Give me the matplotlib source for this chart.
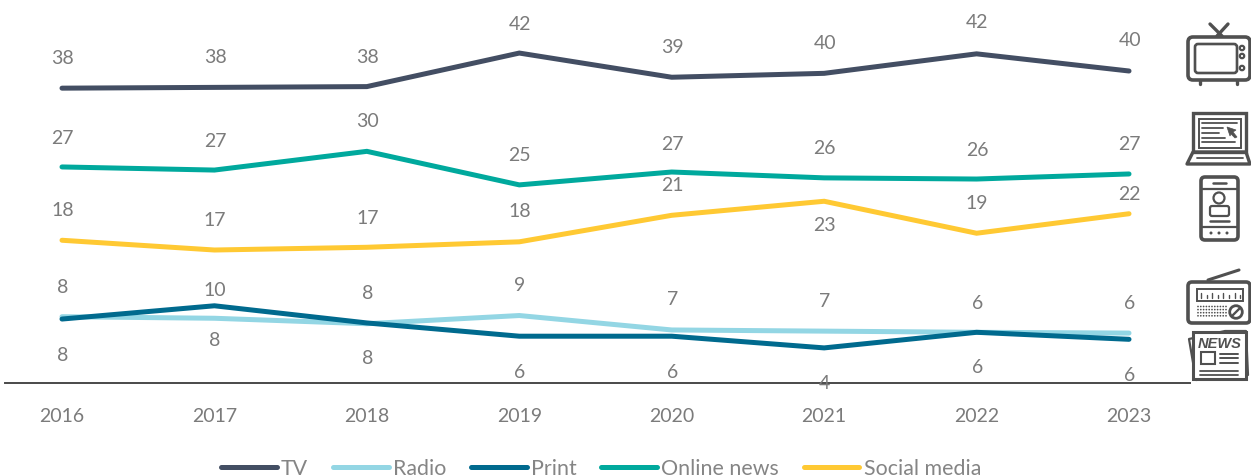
import matplotlib
matplotlib.use("Agg")
import matplotlib.pyplot as plt
from matplotlib.patches import Circle, FancyBboxPatch, Polygon, Rectangle

plt.rcParams['font.family'] = ['Lato', 'DejaVu Sans']

years = [2016, 2017, 2018, 2019, 2020, 2021, 2022, 2023]

tv = [37.8, 37.9, 38.0, 42.3, 39.2, 39.7, 42.2, 40.0]
radio = [8.5, 8.3, 7.6, 8.65, 6.8, 6.65, 6.5, 6.4]
printed = [8.2, 9.9, 7.7, 6.0, 6.0, 4.5, 6.5, 5.6]
online = [27.7, 27.3, 29.7, 25.4, 27.05, 26.3, 26.15, 26.8]
social = [18.3, 17.05, 17.4, 18.1, 21.5, 23.3, 19.2, 21.7]

tv_labels = [38, 38, 38, 42, 39, 40, 42, 40]
radio_labels = [8, 8, 8, 9, 7, 7, 6, 6]
print_labels = [8, 10, 8, 6, 6, 4, 6, 6]
online_labels = [27, 27, 30, 25, 27, 26, 26, 27]
social_labels = [18, 17, 17, 18, 21, 23, 19, 22]

# label distance from the line, in pixels (negative = below)
tv_off = [31, 30.5, 30.5, 30, 31, 31, 32, 31]
radio_off = [30, -21, 31, 31.5, 31, 31, 30, 31]
print_off = [-35, 16, -35, -35, -35, -35, -34.5, -35.5]
online_off = [29, 30, 31, 30.5, 29, 30, 30, 30]
social_off = [31, 31, 30, 31, 31, -23, 31, 20]

W, H = 1251, 477
GREY = "#7b7b7b"
ICON = "#505050"

fig = plt.figure(figsize=(W / 100, H / 100), dpi=100)
ax = fig.add_axes([5 / W, (H - 384) / H, (1190 - 5) / W, 383 / H])

series = [
    ("TV", tv, tv_labels, tv_off, "#434e63"),
    ("Radio", radio, radio_labels, radio_off, "#93d6e4"),
    ("Print", printed, print_labels, print_off, "#006a8e"),
    ("Online news", online, online_labels, online_off, "#00a99d"),
    ("Social media", social, social_labels, social_off, "#ffc933"),
]

xs = list(range(len(years)))
for name, vals, labs, offs, col in series:
    ax.plot(xs, vals, color=col, lw=3.6, label=name, solid_capstyle="round",
            solid_joinstyle="miter", clip_on=False)
    for x, v, lab, off in zip(xs, vals, labs, offs):
        ax.annotate(str(lab), (x + 0.004, v), xytext=(0, off * 0.72), textcoords="offset points",
                    ha="center", va="center", fontsize=14, color=GREY)

ax.set_xlim((5 - 62) / 152.43, (1190 - 62) / 152.43)
ax.set_ylim(0, 383 / 7.8)
ax.set_xticks(xs)
ax.set_xticklabels(years, fontsize=14, color=GREY)
ax.set_yticks([])
ax.tick_params(axis="x", length=0, pad=17)
for s in ["top", "left", "right"]:
    ax.spines[s].set_visible(False)
ax.spines["bottom"].set_color("#4a4a4a")
ax.spines["bottom"].set_linewidth(1.4)
ax.patch.set_alpha(0)

leg = ax.legend(loc="center", bbox_to_anchor=(596 / 1185, -85 / 383), ncols=5, frameon=False,
                handlelength=2.6, handletextpad=0.19, columnspacing=1.17,
                labelcolor="#858585", prop={"size": 15.4, "family": "Lato"})

# icons, drawn in pixel coordinates on the right
ic = fig.add_axes([0, 0, 1, 1], zorder=5)
ic.set_xlim(0, W)
ic.set_ylim(H, 0)
ic.axis("off")


def rbox(x0, y0, x1, y1, r=3, lw=2.6, fc="none"):
    ic.add_patch(FancyBboxPatch((x0 + r, y0 + r), x1 - x0 - 2 * r, y1 - y0 - 2 * r,
                                boxstyle=f"round,pad={r}", fc=fc, ec=ICON, lw=lw))


def seg(x0, y0, x1, y1, lw=1.6):
    ic.plot([x0, x1], [y0, y1], color=ICON, lw=lw, solid_capstyle="round")


# TV
rbox(1188, 38, 1250, 81, r=5)
rbox(1195, 45, 1237, 74, r=3, lw=1.9)
for ky in [49, 57, 69]:
    ic.add_patch(Circle((1242, ky), 2.2, fc="none", ec=ICON, lw=1.6))
seg(1222, 37, 1210, 25, lw=2.4)
seg(1217, 37, 1228, 25, lw=2.4)
seg(1200, 81, 1200, 85, lw=2.4)
seg(1237, 81, 1237, 85, lw=2.4)

# laptop
ic.add_patch(Rectangle((1193, 114), 53, 39, fc="none", ec=ICON, lw=2.4))
ic.add_patch(Rectangle((1199, 120), 42, 29, fc="none", ec=ICON, lw=1.4))
for y, x1 in [(124, 1237), (129, 1223), (134, 1219), (139, 1225), (143, 1235)]:
    seg(1202, y, x1, y, lw=1.3)
ic.add_patch(Polygon([(1227, 128), (1236, 131), (1233, 133), (1237, 138), (1235, 139),
                      (1231, 135), (1230, 137)], fc=ICON, ec=ICON, lw=0.5))
ic.add_patch(Polygon([(1193, 153), (1187, 165), (1250, 165), (1246, 153)],
                     fc="none", ec=ICON, lw=2.4, joinstyle="round"))
seg(1197, 159, 1243, 159, lw=1.3)

# phone
rbox(1201, 178, 1238, 241, r=4)
seg(1213, 184, 1226, 184, lw=1.8)
seg(1202, 190, 1237, 190, lw=1.6)
seg(1202, 228, 1237, 228, lw=1.6)
ic.add_patch(Circle((1219, 199), 5.5, fc="none", ec=ICON, lw=1.6))
rbox(1210, 207, 1229, 217, r=2, lw=1.6)
seg(1210, 222, 1229, 222, lw=1.8)
for dx in [1211, 1219, 1227]:
    ic.add_patch(Circle((dx, 234), 1.5, fc=ICON, ec="none"))

# radio
rbox(1188, 283, 1250, 324, r=4)
seg(1208, 281, 1239, 271, lw=2.2)
ic.add_patch(Rectangle((1197, 290), 46, 12, fc="none", ec=ICON, lw=1.4))
for i in range(8):
    seg(1201 + i * 5.6, 294 + (i % 2) * 1.5, 1201 + i * 5.6, 299, lw=1)
for row in range(4):
    for col in range(11):
        ic.add_patch(Circle((1198 + col * 2.8, 307.5 + row * 3.1), 0.85, fc=ICON, ec="none"))
ic.add_patch(Circle((1236, 313), 6.3, fc="none", ec=ICON, lw=2))
seg(1232, 317, 1240, 309, lw=1.7)

# newspaper
ic.add_patch(Polygon([(1189, 340), (1225, 332), (1246, 332), (1248, 376), (1196, 381)],
                     fc="white", ec=ICON, lw=1.6, joinstyle="round"))
ic.add_patch(Rectangle((1193, 333), 53, 47, fc="white", ec=ICON, lw=2.2))
ic.text(1220, 344, "NEWS", ha="center", va="center", fontsize=10.5, fontweight="bold",
        fontstyle="italic", color=ICON, family="Liberation Sans")
ic.add_patch(Rectangle((1201, 353), 14, 12, fc="none", ec=ICON, lw=1.5))
for y in [355, 359, 364]:
    seg(1220, y, 1238, y, lw=1.4)
for y in [372, 375.5]:
    seg(1200, y, 1238, y, lw=1.3)

fig.savefig("out.png", dpi=100)
